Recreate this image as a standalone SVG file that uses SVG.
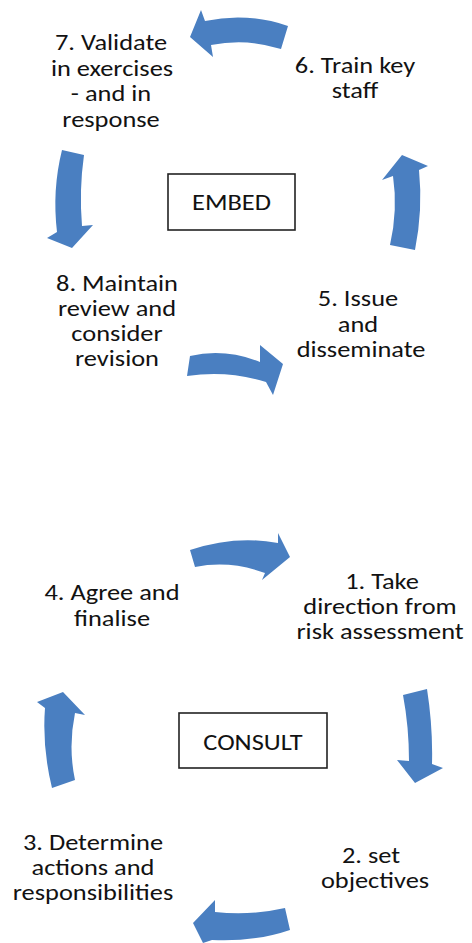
<svg xmlns="http://www.w3.org/2000/svg" width="472" height="943" viewBox="0 0 472 943">
  <style>
    .lbl { font-family: Carlito, Lato, "Open Sans", sans-serif; font-size: 22px; fill: #121212; text-anchor: middle; }
    .box { fill: #ffffff; stroke: #222222; stroke-width: 1.6; }
    .arw { fill: #4a7fc1; }
  </style>
  <rect width="472" height="943" fill="#ffffff"/>

  <!-- curved block arrows of both cycles -->
  <g id="connectors">
    <!-- EMBED cycle -->
    <path class="arw" d="M190,37 L201,10 L205,21 Q247,12 288,26 L281,49 Q247,38 211,45 L213,57 Z"/>
    <path class="arw" d="M62,150 L84,155 Q79,190 82,226 L93,225 L72,248 L47,238 L57,232 Q52,190 62,150 Z"/>
    <path class="arw" d="M190,356 Q225,348 260,362 L260,345 L283,364 L273,395 L266,382 Q228,370 187,376 Z"/>
    <path class="arw" d="M402,155 L428,166 L419,170 Q423,210 415,250 L390,245 Q398,210 393,176 L382,180 Z"/>
    <!-- CONSULT cycle -->
    <path class="arw" d="M190,550 Q235,535 278,543 L278,533 L290,557 L262,580 L265,573 Q230,560 195,567 Z"/>
    <path class="arw" d="M403,695 L427,689 Q433,727 432,764 L443,768 L415,783 L397,760 L409,761 Q409,727 403,695 Z"/>
    <path class="arw" d="M193,923 L215,900 L215,912 Q250,916 285,908 L290,930 Q255,942 212,940 L203,943 Z"/>
    <path class="arw" d="M63,692 L85,715 L75,713 Q68,747 75,780 L52,788 Q42,747 45,708 L37,702 Z"/>
  </g>

  <!-- labels are set slightly wide: translate to the line's centre, then stretch -->
  <g id="embed">
    <rect class="box" x="168" y="174" width="127" height="56"/>
    <text class="lbl" transform="translate(231.5,210) scale(1.2,1)">EMBED</text>
  </g>

  <g id="step7">
    <text class="lbl" transform="translate(111,50) scale(1.2,1)">7. Validate</text>
    <text class="lbl" transform="translate(112,76) scale(1.2,1)">in exercises</text>
    <text class="lbl" transform="translate(111,101) scale(1.2,1)">- and in</text>
    <text class="lbl" transform="translate(111,127) scale(1.2,1)">response</text>
  </g>

  <g id="step6">
    <text class="lbl" transform="translate(355,73) scale(1.2,1)">6. Train key</text>
    <text class="lbl" transform="translate(355,98) scale(1.2,1)">staff</text>
  </g>

  <g id="step8">
    <text class="lbl" transform="translate(117,291) scale(1.2,1)">8. Maintain</text>
    <text class="lbl" transform="translate(117,316) scale(1.2,1)">review and</text>
    <text class="lbl" transform="translate(117,341) scale(1.2,1)">consider</text>
    <text class="lbl" transform="translate(117,366) scale(1.2,1)">revision</text>
  </g>

  <g id="step5">
    <text class="lbl" transform="translate(358,306) scale(1.2,1)">5. Issue</text>
    <text class="lbl" transform="translate(358,332) scale(1.2,1)">and</text>
    <text class="lbl" transform="translate(361,357) scale(1.2,1)">disseminate</text>
  </g>

  <g id="consult">
    <rect class="box" x="179" y="713" width="148" height="55"/>
    <text class="lbl" transform="translate(253,750) scale(1.2,1)">CONSULT</text>
  </g>

  <g id="step4">
    <text class="lbl" transform="translate(112,600) scale(1.2,1)">4. Agree and</text>
    <text class="lbl" transform="translate(112,626) scale(1.2,1)">finalise</text>
  </g>

  <g id="step1">
    <text class="lbl" transform="translate(382,589) scale(1.2,1)">1. Take</text>
    <text class="lbl" transform="translate(380,614) scale(1.2,1)">direction from</text>
    <text class="lbl" transform="translate(380,639) scale(1.2,1)">risk assessment</text>
  </g>

  <g id="step3">
    <text class="lbl" transform="translate(93,850) scale(1.2,1)">3. Determine</text>
    <text class="lbl" transform="translate(93,875) scale(1.2,1)">actions and</text>
    <text class="lbl" transform="translate(93,900) scale(1.2,1)">responsibilities</text>
  </g>

  <g id="step2">
    <text class="lbl" transform="translate(371,863) scale(1.2,1)">2. set</text>
    <text class="lbl" transform="translate(375,888) scale(1.2,1)">objectives</text>
  </g>
</svg>
